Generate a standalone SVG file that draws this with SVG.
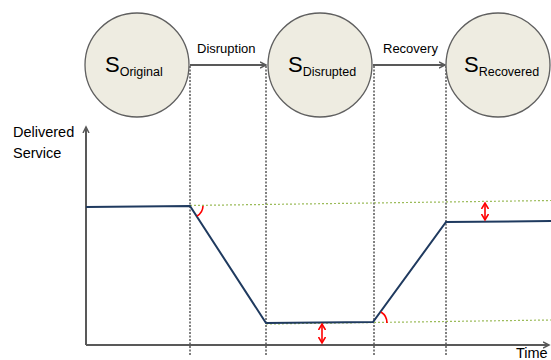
<svg xmlns="http://www.w3.org/2000/svg" width="551" height="360" viewBox="0 0 551 360">
<style>
.state{fill:#EEECE1;stroke:#5f5f5f;stroke-width:1.3}
.big{font-family:"Liberation Sans",Arial,sans-serif;font-size:22px;fill:#000}
.sub{font-family:"Liberation Sans",Arial,sans-serif;font-size:12.5px;fill:#000}
.lbl{font-family:"Liberation Sans",Arial,sans-serif;font-size:13px;fill:#000}
.ax{font-family:"Liberation Sans",Arial,sans-serif;font-size:14.5px;fill:#000}
.tr{stroke:#595959;stroke-width:2;fill:none}
.vd{stroke:#000;stroke-width:1;stroke-dasharray:2,1.5;fill:none}
.gd{stroke:#9BBB59;stroke-width:1.2;stroke-dasharray:2,2;fill:none}
.red{stroke:#FF0000;stroke-width:1.6;fill:none}
</style>
<defs>
<marker id="ah" markerWidth="8" markerHeight="8" refX="6" refY="4" orient="auto" markerUnits="userSpaceOnUse">
<path d="M0,1 L6,4 L0,7" fill="none" stroke="#595959" stroke-width="1.5"/>
</marker>
<marker id="ra" markerWidth="8" markerHeight="8" refX="6" refY="4" orient="auto-start-reverse" markerUnits="userSpaceOnUse">
<path d="M0,0.5 L6,4 L0,7.5" fill="none" stroke="#FF0000" stroke-width="1.6"/>
</marker>
</defs>
<g id="connectors">
<line class="tr" x1="190" y1="65" x2="266" y2="65" marker-end="url(#ah)"/>
<line class="tr" x1="373" y1="65" x2="445" y2="65" marker-end="url(#ah)"/>
<text class="lbl" x="197" y="53">Disruption</text>
<text class="lbl" x="383" y="53">Recovery</text>
</g>
<g id="guides">
<line class="vd" x1="190" y1="66" x2="190" y2="356"/>
<line class="vd" x1="266" y1="66" x2="266" y2="356"/>
<line class="vd" x1="374" y1="66" x2="374" y2="356"/>
<line class="vd" x1="446" y1="66" x2="446" y2="356"/>
<line class="gd" x1="190" y1="205.5" x2="551" y2="200.5"/>
<line class="gd" x1="266" y1="324" x2="551" y2="320"/>
</g>
<g id="axes">
<line class="tr" x1="86" y1="345" x2="86" y2="127" marker-end="url(#ah)"/>
<line class="tr" x1="86" y1="345" x2="549" y2="345" marker-end="url(#ah)"/>
<text class="ax" x="13" y="137">Delivered</text>
<text class="ax" x="13" y="158">Service</text>
<text class="ax" x="516" y="358">Time</text>
</g>
<g id="curve">
<polyline points="86,207 190,206 266,323 373,322 446,222 551,221" fill="none" stroke="#1F3A5F" stroke-width="2"/>
</g>
<g id="annotations">
<path class="red" d="M197,216 A12,12 0 0 0 203,206"/>
<path class="red" d="M381,312 A13,13 0 0 1 387,323"/>
<line class="red" x1="485" y1="203" x2="485" y2="220" marker-start="url(#ra)" marker-end="url(#ra)"/>
<line class="red" x1="322" y1="324" x2="322" y2="343" marker-start="url(#ra)" marker-end="url(#ra)"/>
</g>
<g id="s-original">
<circle class="state" cx="137" cy="65" r="52"/>
<text x="105" y="72"><tspan class="big">S</tspan><tspan class="sub" dy="4">Original</tspan></text>
</g>
<g id="s-disrupted">
<circle class="state" cx="320" cy="65" r="52"/>
<text x="288" y="72"><tspan class="big">S</tspan><tspan class="sub" dy="4">Disrupted</tspan></text>
</g>
<g id="s-recovered">
<circle class="state" cx="498" cy="65" r="52"/>
<text x="464" y="72"><tspan class="big">S</tspan><tspan class="sub" dy="4">Recovered</tspan></text>
</g>
</svg>
